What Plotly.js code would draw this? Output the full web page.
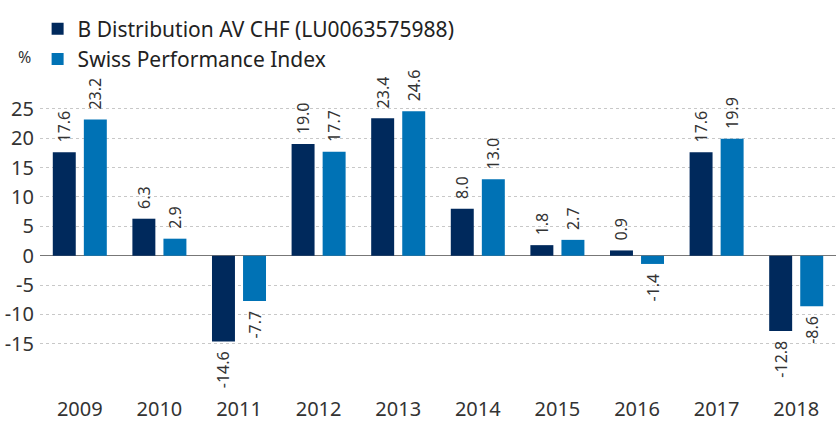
<!DOCTYPE html>
<html><head><meta charset="utf-8">
<script src="https://cdn.plot.ly/plotly-3.0.1.min.js"></script>
<style>body{margin:0;padding:0;background:#fff}#chart{width:838px;height:423px}</style>
</head><body><div id="chart"></div>
<script>
const years = ['2009','2010','2011','2012','2013','2014','2015','2016','2017','2018'];
const fundName = 'B Distribution AV CHF (LU0063575988)';
const fundValues = [17.6, 6.3, -14.6, 19.0, 23.4, 8.0, 1.8, 0.9, 17.6, -12.8];
const indexName = 'Swiss Performance Index';
const indexValues = [23.2, 2.9, -7.7, 17.7, 24.6, 13.0, 2.7, -1.4, 19.9, -8.6];
const yTicks = [-15, -10, -5, 0, 5, 10, 15, 20, 25];

const FONT = 'Noto Sans, Open Sans, sans-serif';
const PAD = '\u00a0\u2009';
function mk(name, vals, color) {
  return {
    type: 'bar', name: name, x: years, y: vals,
    marker: {color: color},
    text: vals.map(v => v >= 0 ? PAD + v.toFixed(1) : v.toFixed(1) + PAD),
    textposition: 'outside', textangle: -90, constraintext: 'none',
    textfont: {family: FONT, size: 16, color: '#333'},
    cliponaxis: false, hoverinfo: 'skip'
  };
}
const data = [mk(fundName, fundValues, '#00295c'), mk(indexName, indexValues, '#0072b5')];
const layout = {
  width: 838, height: 423,
  margin: {l: 40, r: 2, t: 100, b: 28, autoexpand: false},
  paper_bgcolor: '#fff', plot_bgcolor: '#fff',
  font: {family: FONT, color: '#333'},
  barmode: 'group', bargap: 0.22, bargroupgap: 0.26,
  showlegend: true,
  legend: {orientation: 'v', x: -0.003, xanchor: 'left', y: 1.31, yanchor: 'top', bgcolor: 'rgba(0,0,0,0)',
    font: {family: FONT, size: 21, color: '#222'}, itemwidth: 30, tracegroupgap: 0, traceorder: 'normal'},
  xaxis: {type: 'category', showgrid: false, zeroline: false, showline: false, ticks: '',
    tickfont: {family: FONT, size: 20, color: '#333'}},
  yaxis: {range: [-23.7, 26.5], tickvals: yTicks, ticktext: yTicks.map(String),
    showgrid: true, gridcolor: '#c8c8c8', griddash: 'dot', gridwidth: 1,
    zeroline: true, zerolinecolor: '#777', zerolinewidth: 1.5,
    ticks: '', ticklen: 0, ticklabelstandoff: 5, tickfont: {family: FONT, size: 20, color: '#333'}},
  annotations: [{text: '%', xref: 'paper', yref: 'paper', x: -0.019, y: 1.146, xanchor: 'center', yanchor: 'middle',
    showarrow: false, font: {family: FONT, size: 16, color: '#333'}}]
};
Plotly.newPlot('chart', data, layout, {displayModeBar: false, staticPlot: true});
</script></body></html>
